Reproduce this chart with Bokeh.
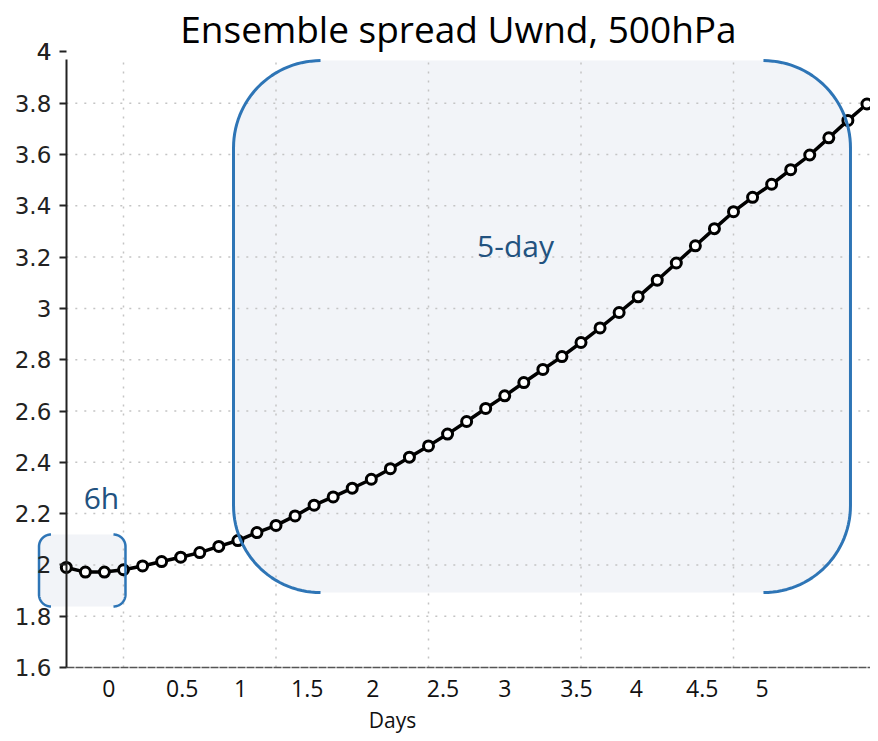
import numpy as np
from bokeh.plotting import figure
from bokeh.models import Range1d, FixedTicker, Label
from bokeh.core.properties import value
from bokeh.embed import file_html
from bokeh.resources import INLINE

# ---- data ----
days = [-0.75, -0.5, -0.25, 0.0, 0.25, 0.5, 0.75, 1.0, 1.25, 1.5, 1.75, 2.0, 2.25, 2.5,
        2.75, 3.0, 3.25, 3.5, 3.75, 4.0, 4.25, 4.5, 4.75, 5.0, 5.25, 5.5, 5.75, 6.0,
        6.25, 6.5, 6.75, 7.0, 7.25, 7.5, 7.75, 8.0, 8.25, 8.5, 8.75, 9.0, 9.25, 9.5, 9.75]
spread = [1.990, 1.972, 1.972, 1.981, 1.996, 2.013, 2.030, 2.048, 2.072, 2.095, 2.126,
          2.154, 2.191, 2.233, 2.265, 2.299, 2.334, 2.375, 2.420, 2.464, 2.510, 2.559,
          2.610, 2.659, 2.711, 2.762, 2.812, 2.867, 2.924, 2.984, 3.045, 3.110, 3.177,
          3.244, 3.311, 3.377, 3.433, 3.484, 3.541, 3.598, 3.665, 3.733, 3.797]
y_ticks = [1.6, 1.8, 2.0, 2.2, 2.4, 2.6, 2.8, 3.0, 3.2, 3.4, 3.6, 3.8, 4.0]
y_labels = ["1.6", "1.8", "2", "2.2", "2.4", "2.6", "2.8", "3", "3.2", "3.4", "3.6", "3.8", "4"]
x_labels = ["0", "0.5", "1", "1.5", "2", "2.5", "3", "3.5", "4", "4.5", "5"]
grid_days = [0, 2, 4, 6, 8]

# ---- layout (positions of overlaid labels / boxes) ----
W, H = 870, 733
x_start, x_end = -1.6131, 9.7967
y_start, y_end = 1.3427, 4.2004
x_label_pos = [-0.193, 0.770, 1.534, 2.409, 3.270, 4.19, 5.001, 5.941, 6.724, 7.590, 8.376]
kx = W / (x_end - x_start)
ky = H / (y_end - y_start)

p = figure(width=W, height=H, output_backend="svg", toolbar_location=None,
           x_range=Range1d(x_start, x_end), y_range=Range1d(y_start, y_end),
           min_border_left=0, min_border_right=0, min_border_top=0, min_border_bottom=0)
p.outline_line_color = None
p.xgrid.visible = False
p.ygrid.visible = False


def bracket_paths(x0, x1, y0, y1, r_px, n=30):
    rx, ry = r_px / kx, r_px / ky
    t = np.linspace(0, np.pi / 2, n)
    lx = np.concatenate([x0 + rx - rx * np.sin(t), x0 + rx - rx * np.cos(t)])
    ly = np.concatenate([y1 - ry + ry * np.cos(t), y0 + ry - ry * np.sin(t)])
    rxs = np.concatenate([x1 - rx + rx * np.sin(t), x1 - rx + rx * np.cos(t)])
    rys = np.concatenate([y1 - ry + ry * np.cos(t), y0 + ry - ry * np.sin(t)])
    return lx, ly, rxs, rys


box_fill = "#f2f4f8"
box_line = "#2e75b6"
boxes = [(1.443, 9.534, 1.892, 3.966, 87, 3), (-1.108, 0.026, 1.8378, 2.1185, 12, 2.5)]
paths = []
for (x0, x1, y0, y1, r, lw) in boxes:
    lx, ly, rxs, rys = bracket_paths(x0, x1, y0, y1, r)
    p.patch(np.concatenate([lx, rxs[::-1]]), np.concatenate([ly, rys[::-1]]),
            fill_color=box_fill, line_color=None)
    paths.append((lx, ly, rxs, rys, lw))

# grid
grid_color = "#c4c4c4"
hy = [t for t in y_ticks if 1.6 < t < 3.9]
p.segment(x0=[-0.75] * len(hy), x1=[x_end] * len(hy), y0=hy, y1=hy,
          line_color=grid_color, line_width=1.5, line_dash="2 7")
p.segment(x0=grid_days, x1=grid_days, y0=[1.6] * len(grid_days), y1=[3.97] * len(grid_days),
          line_color=grid_color, line_width=1.5, line_dash="2 7")

# data
p.line(days, spread, line_color="black", line_width=3.5)
p.scatter(days, spread, size=10, fill_color="white", line_color="black", line_width=3)

for (lx, ly, rxs, rys, lw) in paths:
    p.line(lx, ly, line_color=box_line, line_width=lw)
    p.line(rxs, rys, line_color=box_line, line_width=lw)

# axes
ya = p.yaxis[0]
ya.fixed_location = -0.75
ya.bounds = (1.6, 3.97)
ya.ticker = FixedTicker(ticks=y_ticks)
ya.major_label_overrides = {t: l for t, l in zip(y_ticks, y_labels)}
ya.axis_line_color = "#222222"
ya.axis_line_width = 2
ya.major_tick_out = 7
ya.major_tick_in = 0
ya.major_tick_line_width = 2
ya.major_tick_line_color = "#222222"
ya.minor_tick_line_color = None
ya.major_label_standoff = 8
ya.major_label_text_font = "DejaVu Sans"
ya.major_label_text_font_size = "23px"
ya.major_label_text_color = "#222222"

xa = p.xaxis[0]
xa.fixed_location = 1.6
xa.bounds = (-0.75, x_end)
xa.ticker = FixedTicker(ticks=x_label_pos)
xa.major_label_overrides = {t: l for t, l in zip(x_label_pos, x_labels)}
xa.axis_line_color = "#555555"
xa.axis_line_width = 1.5
xa.axis_line_dash = "8 1"
xa.major_tick_out = 0
xa.major_tick_in = 0
xa.minor_tick_line_color = None
xa.major_label_standoff = 12
xa.major_label_text_font = "Open Sans"
xa.major_label_text_font_size = "23px"
xa.major_label_text_color = "#111111"

# top "4" label (axis line stops below it)
p.text(x=[-0.75], y=[y_ticks[-1]], text=[y_labels[-1]], x_offset=-15,
       text_align="right", text_baseline="middle", text_font=value("DejaVu Sans"),
       text_font_size="23px", text_color="#222222")

p.add_layout(Label(x=4.393, y=4.091, text="Ensemble spread Uwnd, 500hPa", text_font="Open Sans",
                   text_font_size="37px", text_color="#000000", text_align="center",
                   text_baseline="middle"))
p.add_layout(Label(x=3.528, y=1.397, text="Days", text_font="Open Sans", text_font_size="21px",
                   text_color="#111111", text_align="center", text_baseline="middle"))
p.add_layout(Label(x=-0.289, y=2.263, text="6h", text_font="Open Sans", text_font_size="30px",
                   text_color="#22527f", text_align="center", text_baseline="middle"))
p.add_layout(Label(x=5.141, y=3.245, text="5-day", text_font="Open Sans", text_font_size="30px",
                   text_color="#22527f", text_align="center", text_baseline="middle"))

open("out.html", "w").write(file_html(p, INLINE))
